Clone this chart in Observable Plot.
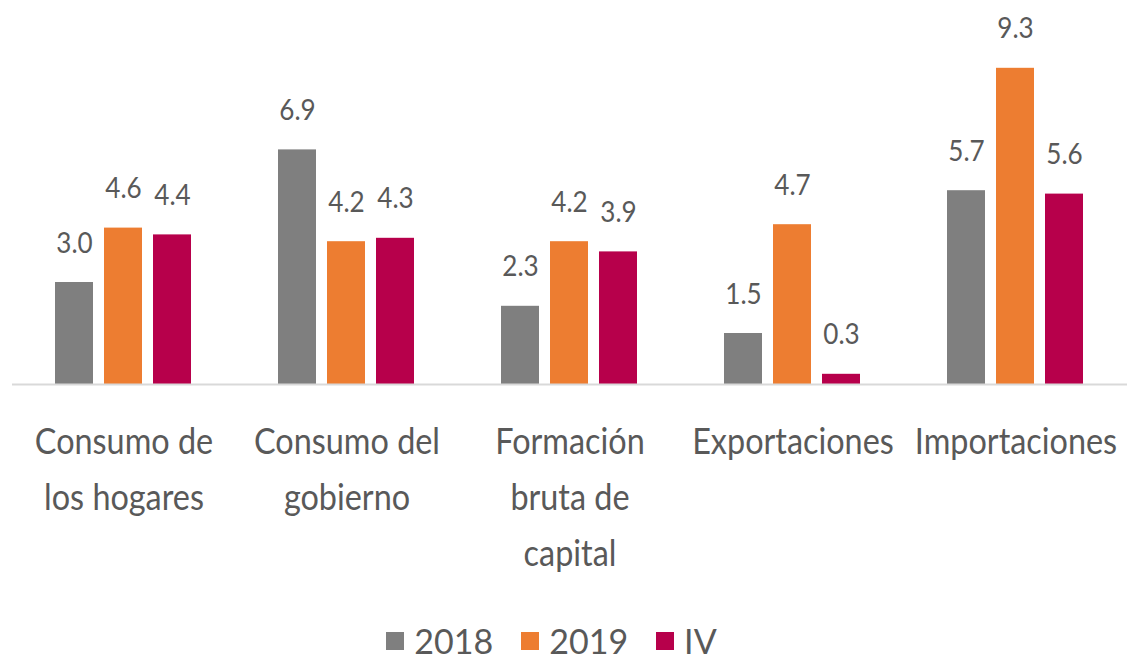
<!DOCTYPE html>
<html>
<head>
<meta charset="utf-8">
<script src="https://cdn.jsdelivr.net/npm/d3@7"></script>
<script src="https://cdn.jsdelivr.net/npm/@observablehq/plot@0.6"></script>
<style>
  html, body { margin: 0; padding: 0; background: #fff; }
  body { width: 1127px; height: 659px; overflow: hidden; font-family: Lato, sans-serif; }
  #legend { display: flex; justify-content: center; align-items: center; font-size: 34px; color: #595959; margin-top: 30px; padding-right: 24px; }
  #legend .item { display: flex; align-items: center; margin: 0 14px; }
  #legend .sw { width: 18px; height: 18px; margin-right: 10px; }
</style>
</head>
<body>
<div id="chart"></div>
<div id="legend"></div>
<script>
const categories = ["Consumo de\nlos hogares", "Consumo del\ngobierno", "Formación\nbruta de\ncapital", "Exportaciones", "Importaciones"];
const series = ["2018", "2019", "IV"];
const values2018 = [3.0, 6.9, 2.3, 1.5, 5.7];
const values2019 = [4.6, 4.2, 4.2, 4.7, 9.3];
const valuesIV = [4.4, 4.3, 3.9, 0.3, 5.6];
const colors = ["#7F7F7F", "#ED7D31", "#B7004B"];

const seriesValues = [values2018, values2019, valuesIV];
const data = [];
categories.forEach((c, i) => {
  series.forEach((s, j) => data.push({category: c, series: s, value: seriesValues[j][i]}));
});

const chart = Plot.plot({
  width: 1127,
  height: 590,
  marginLeft: 11,
  marginRight: 0,
  marginTop: 44,
  marginBottom: 206,
  style: {fontFamily: "Lato, sans-serif", color: "#595959", background: "#fff"},
  fx: {domain: categories, padding: 0, label: null},
  x: {domain: series, paddingInner: 0.22, paddingOuter: 0.86, axis: null},
  y: {domain: [0, 10], axis: null},
  color: {domain: series, range: colors},
  marks: [
    Plot.axisFx({anchor: "bottom", tickSize: 0, tickPadding: 30, fontSize: 36, lineHeight: 1.55, fill: "#595959", label: null}),
    Plot.barY(data, {fx: "category", x: "series", y: "value", fill: "series"}),
    Plot.ruleY([0], {stroke: "#D9D9D9", strokeWidth: 2}),
    Plot.text(data, {fx: "category", x: "series", y: "value", text: d => d.value.toFixed(1), lineAnchor: "bottom", dy: -30, fontSize: 29, fill: "#595959"})
  ]
});
// narrow the glyphs horizontally around each text's anchor (reference uses a condensed face)
chart.querySelectorAll("text").forEach(t => {
  const tr = t.getAttribute("transform") || "";
  t.setAttribute("transform", tr + " scale(0.9,1)");
});
document.getElementById("chart").appendChild(chart);

const legend = document.getElementById("legend");
series.forEach((s, i) => {
  const item = document.createElement("div");
  item.className = "item";
  const sw = document.createElement("span");
  sw.className = "sw";
  sw.style.background = colors[i];
  const t = document.createElement("span");
  t.textContent = s;
  item.appendChild(sw);
  item.appendChild(t);
  legend.appendChild(item);
});
</script>
</body>
</html>
